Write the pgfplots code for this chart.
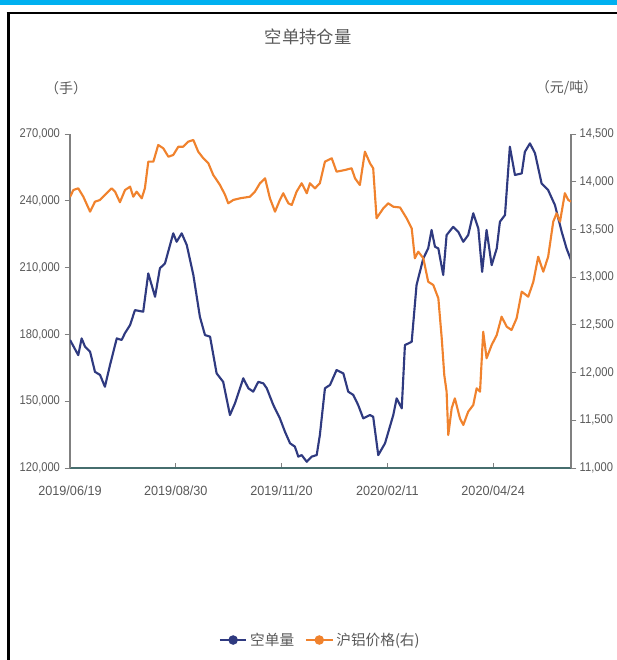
\documentclass[border=0pt]{standalone}
\usepackage{fontspec}
\setmainfont{Liberation Sans}
\newfontfamily\cjk{Noto Sans CJK SC}
\newfontfamily\tickfont[FakeStretch=0.88]{Liberation Sans}
\newfontfamily\datefont[FakeStretch=0.95]{Liberation Sans}
\usepackage{pgfplots}
\pgfplotsset{compat=1.18}

\definecolor{navy}{RGB}{47,58,128}
\definecolor{orng}{RGB}{240,130,45}
\definecolor{txt}{RGB}{89,89,89}
\definecolor{axgray}{RGB}{128,128,128}
\definecolor{xline}{RGB}{70,110,110}
\definecolor{band}{RGB}{0,176,240}

% 1px = 0.75pt, picture is 617x660 px
\pgfplotsset{
  chartbase/.style={
    at={(52.5pt,-351pt)}, anchor=south west,
    scale only axis, width=375.75pt, height=250.5pt,
    xmin=0, xmax=236.8,
    scaled y ticks=false,
    /pgf/number format/.cd, fixed, 1000 sep={,}, assume math mode=true,
    /pgfplots/.cd,
    tick style={axgray, line width=0.6pt},
    yticklabel style={font=\tickfont\fontsize{9.5}{11}\selectfont, text=txt},
    xticklabel style={font=\datefont\fontsize{10}{12}\selectfont, text=txt},
  }
}

\begin{document}
\begin{tikzpicture}
\useasboundingbox (0,0) rectangle (462.75pt,-495pt);
\fill[band] (0,0) rectangle (462.75pt,-3.75pt);
\draw[black, line width=1.5pt] (5pt,-10pt) -- (462.75pt,-10pt);
\draw[black, line width=2.25pt] (6pt,-9.25pt) -- (6pt,-495pt);

\begin{axis}[chartbase,
  axis x line*=bottom, axis y line*=left,
  ymin=120000, ymax=270000, ytick={120000,150000,...,270000},
  xtick={0,50,100,150,200},
  xticklabels={2019/06/19,2019/08/30,2019/11/20,2020/02/11,2020/04/24},
  xtick align=inside, ytick align=outside,
  x axis line style={xline, line width=1.2pt},
  y axis line style={axgray, line width=0.8pt},
  major tick length=4pt,
  xticklabel style={yshift=-10pt},
]
\addplot[navy, line width=1.6pt, line join=round] coordinates {
(0,177500) (3.9,170700) (5.5,178200) (7.1,174500) (9.5,172200) (11.8,163200)
(14.2,161800) (16.5,156500) (18.9,166200) (22.1,178200) (24.4,177500) (26.0,180600)
(28.4,184200) (30.7,190900) (34.6,190200) (37.0,207400) (40.2,196900) (42.5,209700)
(44.9,211900) (48.8,225400) (50.4,221600) (52.8,225400) (55.2,220100) (58.3,206700)
(61.4,187900) (63.8,179700) (66.2,179000) (69.3,162500) (72.4,158700) (75.6,143800)
(78.0,149100) (81.9,160300) (84.3,155800) (86.6,154300) (89.0,158700) (91.4,158000)
(93.0,155800) (96.1,148300) (99.2,142300) (101.6,136300) (104.0,131100) (106.3,129600)
(107.9,125100) (109.5,125800) (111.9,122800) (114.2,125100) (116.6,125800) (118.1,134800)
(120.5,155800) (122.9,157300) (126.0,164000) (129.2,162500) (131.5,154300) (133.9,152800)
(136.2,148300) (138.6,142300) (141.8,143800) (143.3,143000) (145.7,125800) (148.9,131100)
(152.8,143800) (154.4,151300) (156.8,146800) (158.3,175200) (161.5,176700) (163.8,202200)
(167.0,214200) (169.3,218600) (170.9,226900) (172.5,219400) (174.1,218600) (176.4,206700)
(178.0,224600) (181.1,228300) (183.5,226100) (185.9,221600) (188.2,224600) (190.6,234400)
(193.0,227600) (194.8,208100) (196.9,226900) (199.3,211100) (201.7,218600) (203.2,230600)
(205.6,233600) (207.9,264300) (210.3,251600) (213.5,252300) (215.0,262000) (217.4,265800)
(219.8,261300) (222.9,247800) (226.0,244800) (229.2,238100) (232.4,226100) (234.7,218600)
(236.8,213400)
};
\end{axis}

\begin{axis}[chartbase,
  axis y line*=right, axis x line=none,
  ymin=11000, ymax=14500, ytick={11000,11500,...,14500},
  ytick align=outside,
  y axis line style={axgray, line width=0.8pt},
  major tick length=4pt,
  yticklabel style={xshift=-1pt},
  legend style={at={(0.5,-0.515)}, anchor=center, draw=none, fill=none,
    legend columns=2, font=\cjk\fontsize{11}{13}\selectfont, text=txt,
    /tikz/every even column/.append style={column sep=6pt}},
  legend image code/.code={
    \draw[#1] (0pt,0pt) -- (20pt,0pt);
    \fill[#1, draw=none] (10pt,0pt) circle (3.6pt);
  },
]
\addlegendimage{navy, line width=1.6pt}
\addlegendentry{空单量}
\addplot[orng, line width=1.6pt, line join=round] coordinates {
(0,13840) (1.6,13913) (3.9,13931) (6.3,13843) (9.5,13686) (11.8,13791)
(14.2,13809) (16.5,13861) (19.7,13931) (21.3,13896) (23.6,13785) (26.0,13913)
(28.4,13948) (29.9,13843) (31.5,13896) (33.9,13826) (35.4,13931) (37.0,14210)
(39.4,14210) (41.7,14385) (44.1,14350) (46.5,14262) (48.8,14280) (51.2,14367)
(53.5,14367) (55.9,14420) (58.3,14437) (60.6,14315) (63.0,14246) (65.4,14193)
(67.7,14071) (70.9,13966) (73.3,13861) (74.8,13774) (77.2,13809) (80.3,13826)
(85.1,13843) (87.4,13896) (89.8,13984) (92.2,14036) (94.5,13826) (96.9,13686)
(99.2,13809) (100.8,13879) (103.2,13774) (104.8,13756) (107.1,13896) (109.5,13984)
(111.9,13879) (113.4,13984) (115.8,13931) (118.1,13984) (120.5,14210) (123.7,14246)
(126.0,14105) (130.0,14123) (133.1,14141) (134.7,14036) (137.0,13966) (139.4,14315)
(141.8,14193) (143.3,14141) (144.9,13617) (148.1,13722) (150.4,13774) (152.8,13738)
(156.0,13730) (159.1,13617) (161.5,13512) (163.0,13198) (164.6,13267) (167.0,13198)
(169.3,12952) (171.7,12918) (174.1,12778) (175.7,12359) (176.9,11975) (178.0,11800)
(178.8,11346) (180.4,11626) (181.9,11730) (184.3,11521) (185.9,11451) (188.2,11590)
(190.6,11660) (192.2,11835) (193.8,11800) (195.3,12428) (196.9,12150) (199.3,12289)
(201.7,12394) (204.0,12586) (206.4,12481) (208.7,12446) (211.1,12569) (213.5,12848)
(216.6,12795) (219.0,12952) (221.3,13214) (223.7,13057) (226.0,13214) (228.4,13581)
(230.0,13669) (231.6,13581) (233.9,13879) (235.5,13809) (236.8,13791)
};
\addlegendentry{沪铝价格(右)}
\end{axis}

\node[text=txt, font=\cjk\fontsize{13}{15}\selectfont] at (231pt,-28pt) {空单持仓量};
\node[text=txt, font=\cjk\fontsize{10.5}{12}\selectfont] at (49.5pt,-66pt) {（手）};
\node[text=txt, font=\cjk\fontsize{10.5}{12}\selectfont] at (425pt,-66pt) {（元/吨）};
\end{tikzpicture}
\end{document}
